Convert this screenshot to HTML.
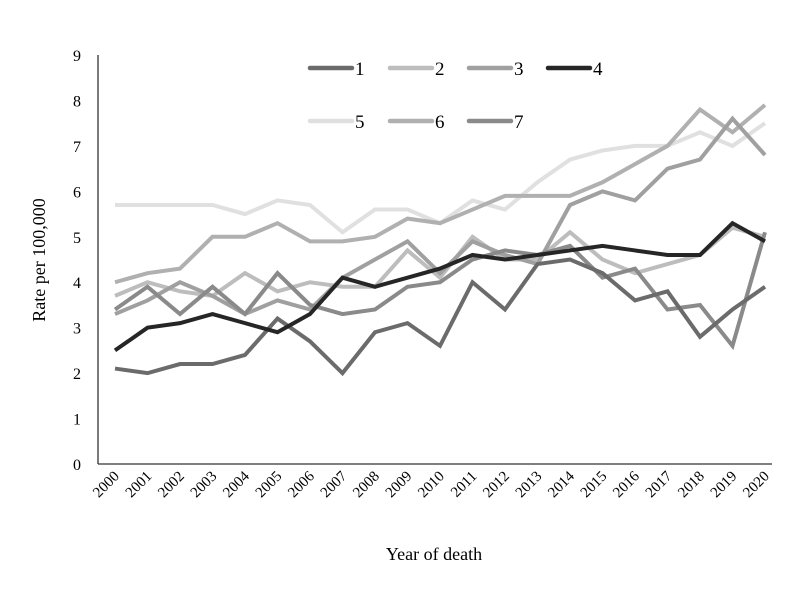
<!DOCTYPE html>
<html><head><meta charset="utf-8"><style>
body{margin:0;background:#fff;}
svg{display:block;font-family:"Liberation Serif",serif;}
</style></head><body>
<svg id="c" width="800" height="600"></svg>
<script>
const years=["2000","2001","2002","2003","2004","2005","2006","2007","2008","2009","2010","2011","2012","2013","2014","2015","2016","2017","2018","2019","2020"];
const yTicks=[0,1,2,3,4,5,6,7,8,9];
const seriesNames=["1","2","3","4","5","6","7"];
const seriesColors=["#6b6b6b","#bdbdbd","#a0a0a0","#262626","#e0e0e0","#b0b0b0","#8a8a8a"];
const s1=[2.1,2.0,2.2,2.2,2.4,3.2,2.7,2.0,2.9,3.1,2.6,4.0,3.4,4.4,4.5,4.2,3.6,3.8,2.8,3.4,3.9];
const s2=[3.7,4.0,3.8,3.7,4.2,3.8,4.0,3.9,3.9,4.7,4.1,5.0,4.5,4.5,5.1,4.5,4.2,4.4,4.6,5.2,5.0];
const s3=[3.3,3.6,4.0,3.7,3.3,3.6,3.4,4.1,4.5,4.9,4.2,4.9,4.6,4.4,5.7,6.0,5.8,6.5,6.7,7.6,6.8];
const s4=[2.5,3.0,3.1,3.3,3.1,2.9,3.3,4.1,3.9,4.1,4.3,4.6,4.5,4.6,4.7,4.8,4.7,4.6,4.6,5.3,4.9];
const s5=[5.7,5.7,5.7,5.7,5.5,5.8,5.7,5.1,5.6,5.6,5.3,5.8,5.6,6.2,6.7,6.9,7.0,7.0,7.3,7.0,7.5];
const s6=[4.0,4.2,4.3,5.0,5.0,5.3,4.9,4.9,5.0,5.4,5.3,5.6,5.9,5.9,5.9,6.2,6.6,7.0,7.8,7.3,7.9];
const s7=[3.4,3.9,3.3,3.9,3.3,4.2,3.5,3.3,3.4,3.9,4.0,4.5,4.7,4.6,4.8,4.1,4.3,3.4,3.5,2.6,5.1];
const allSeries=[s1,s2,s3,s4,s5,s6,s7];
const NS="http://www.w3.org/2000/svg";
const svg=document.getElementById('c');
const X0=115,XSTEP=32.5,Y0=464,YU=45.44,AXL=98,AXR=772;
const xp=i=>X0+i*XSTEP;
const yp=v=>Y0-v*YU;
function mk(t,a){const e=document.createElementNS(NS,t);for(const k in a)e.setAttribute(k,a[k]);svg.appendChild(e);return e;}
let e;
e=mk('line',{x1:AXL,y1:yp(9),x2:AXL,y2:Y0,stroke:'#333','stroke-width':1.3});


e=mk('line',{x1:AXL,y1:Y0,x2:AXR,y2:Y0,stroke:'#333','stroke-width':1.3});


yTicks.forEach(v=>{
 const t=mk('text',{x:81,y:yp(v)+6,'text-anchor':'end','font-size':16,fill:'#000'});t.textContent=v;
 
 
});
years.forEach((y,i)=>{
 const t=mk('text',{x:xp(i)+5,y:477,'text-anchor':'end','font-size':15,fill:'#000',transform:`rotate(-45 ${xp(i)+5} 477)`});t.textContent=y;
 
 
});
e=mk('text',{x:434,y:560,'text-anchor':'middle','font-size':18,fill:'#000'});e.textContent='Year of death';


e=mk('text',{x:0,y:0,'text-anchor':'middle','font-size':18,fill:'#000',transform:'translate(45 260) rotate(-90)'});e.textContent='Rate per 100,000';


const drawOrder=[4,5,1,2,6,0,3];
drawOrder.forEach(k=>{
 const d=allSeries[k].map((v,i)=>(i?'L':'M')+xp(i)+' '+yp(v)).join(' ');
 const p=mk('path',{d:d,fill:'none',stroke:seriesColors[k],'stroke-width':4,'stroke-linejoin':'miter'});
 
 
});
const legX=[310,390,469,548];
seriesNames.forEach((n,k)=>{
 const col=k<4?k:k-4, row=k<4?0:1;
 const lx=legX[col], ly=row?121:68;
 const g=document.createElementNS(NS,'g');svg.appendChild(g);
 
 
 const l=document.createElementNS(NS,'line');
 l.setAttribute('x1',lx);l.setAttribute('y1',ly);l.setAttribute('x2',lx+42);l.setAttribute('y2',ly);
 l.setAttribute('stroke',seriesColors[k]);l.setAttribute('stroke-width',4.5);l.setAttribute('stroke-linecap','round');
 g.appendChild(l);
 const t=document.createElementNS(NS,'text');
 t.setAttribute('x',lx+45);t.setAttribute('y',ly+7);t.setAttribute('font-size',19);t.setAttribute('fill','#000');
 t.textContent=n;g.appendChild(t);
});
</script>
</body></html>
